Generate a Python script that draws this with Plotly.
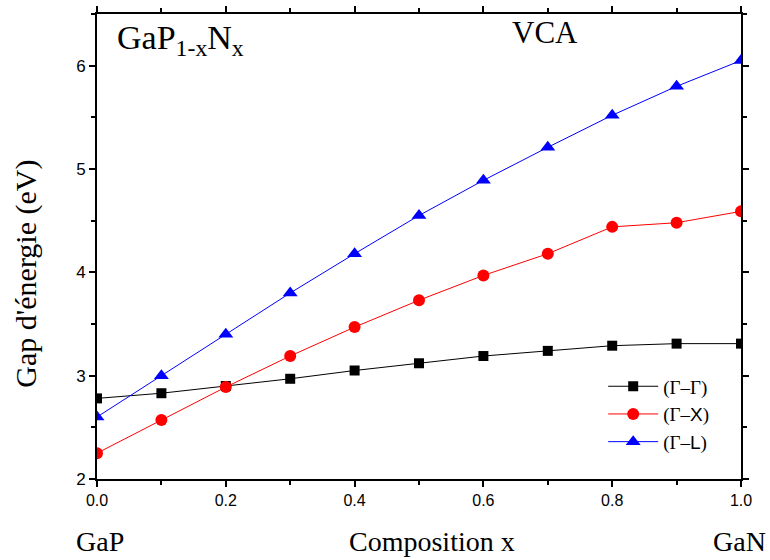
import plotly.graph_objects as go

x = [0.0, 0.1, 0.2, 0.3, 0.4, 0.5, 0.6, 0.7, 0.8, 0.9, 1.0]
gg = [2.78, 2.83, 2.90, 2.97, 3.05, 3.12, 3.19, 3.24, 3.29, 3.31, 3.31]
gx = [2.25, 2.57, 2.89, 3.19, 3.47, 3.73, 3.97, 4.18, 4.44, 4.48, 4.59]
gl = [2.60, 3.00, 3.40, 3.80, 4.18, 4.55, 4.89, 5.21, 5.52, 5.80, 6.05]
names = ["(Γ–Γ)",
         "(Γ–<span style='font-family:Liberation Sans, Arial'>X</span>)",
         "(Γ–<span style='font-family:Liberation Sans, Arial'>L</span>)"]
xticks = [0.0, 0.2, 0.4, 0.6, 0.8, 1.0]
xticklabels = ["0.0", "0.2", "0.4", "0.6", "0.8", "1.0"]
yticks = [2, 3, 4, 5, 6]

serif = "Liberation Serif, Times New Roman, serif"
sans = "Liberation Sans Narrow, Arial Narrow, Liberation Sans, Arial, sans-serif"

fig = go.Figure()
fig.add_trace(go.Scatter(x=x, y=gg, mode="lines+markers", name=names[0],
                         line=dict(color="black", width=1),
                         marker=dict(symbol="square", size=10, color="black")))
fig.add_trace(go.Scatter(x=x, y=gx, mode="lines+markers", name=names[1],
                         line=dict(color="red", width=1),
                         marker=dict(symbol="circle", size=12, color="red")))
fig.add_trace(go.Scatter(x=x, y=gl, mode="lines+markers", name=names[2],
                         line=dict(color="blue", width=1),
                         marker=dict(symbol="triangle-up", size=13, color="blue")))

fig.update_layout(
    width=770, height=560,
    margin=dict(l=97, r=29, t=6, b=81),
    plot_bgcolor="white", paper_bgcolor="white",
    showlegend=True,
    legend=dict(x=0.786, y=0.24, xanchor="left", yanchor="top",
                bgcolor="rgba(0,0,0,0)", font=dict(family=serif, size=19, color="black"),
                tracegroupgap=0, itemwidth=50),
    xaxis=dict(range=[0, 1.0], tickvals=xticks, ticktext=xticklabels,
               ticks="outside", ticklen=6, tickwidth=1.5, tickcolor="black",
               minor=dict(tickvals=[0.1, 0.3, 0.5, 0.7, 0.9], ticks="outside", ticklen=4, tickcolor="black"),
               showline=True, linecolor="black", linewidth=2, mirror="ticks",
               showgrid=False, zeroline=False,
               tickfont=dict(family=sans, size=16, color="black")),
    yaxis=dict(range=[2, 6.5], tickvals=yticks,
               ticks="outside", ticklen=6, tickwidth=1.5, tickcolor="black",
               minor=dict(tickvals=[2.5, 3.5, 4.5, 5.5, 6.5], ticks="outside", ticklen=4, tickcolor="black"),
               showline=True, linecolor="black", linewidth=2, mirror="ticks",
               showgrid=False, zeroline=False,
               tickfont=dict(family=sans, size=17, color="black")),
    annotations=[
        dict(text="Gap d'énergie (eV)", xref="paper", yref="paper", x=-0.110, y=0.442,
             xanchor="center", yanchor="middle", showarrow=False, textangle=-90,
             font=dict(family=serif, size=30, color="black")),
        dict(text="GaP<sub>1-x</sub>N<sub>x</sub>", xref="paper", yref="paper", x=0.028, y=0.945,
             xanchor="left", yanchor="middle", showarrow=False,
             font=dict(family=serif, size=34, color="black")),
        dict(text="VCA", xref="paper", yref="paper", x=0.696, y=0.96,
             xanchor="center", yanchor="middle", showarrow=False,
             font=dict(family=serif, size=31, color="black")),
        dict(text="GaP", xref="paper", yref="paper", x=0.005, y=-0.135,
             xanchor="center", yanchor="middle", showarrow=False,
             font=dict(family=serif, size=28, color="black")),
        dict(text="Composition x", xref="paper", yref="paper", x=0.52, y=-0.135,
             xanchor="center", yanchor="middle", showarrow=False,
             font=dict(family=serif, size=28, color="black")),
        dict(text="GaN", xref="paper", yref="paper", x=0.998, y=-0.135,
             xanchor="center", yanchor="middle", showarrow=False,
             font=dict(family=serif, size=28, color="black")),
    ],
)

fig.write_html("out.html", config={"displayModeBar": False},
               post_script="document.body.style.margin='0';document.body.style.overflow='hidden';")
